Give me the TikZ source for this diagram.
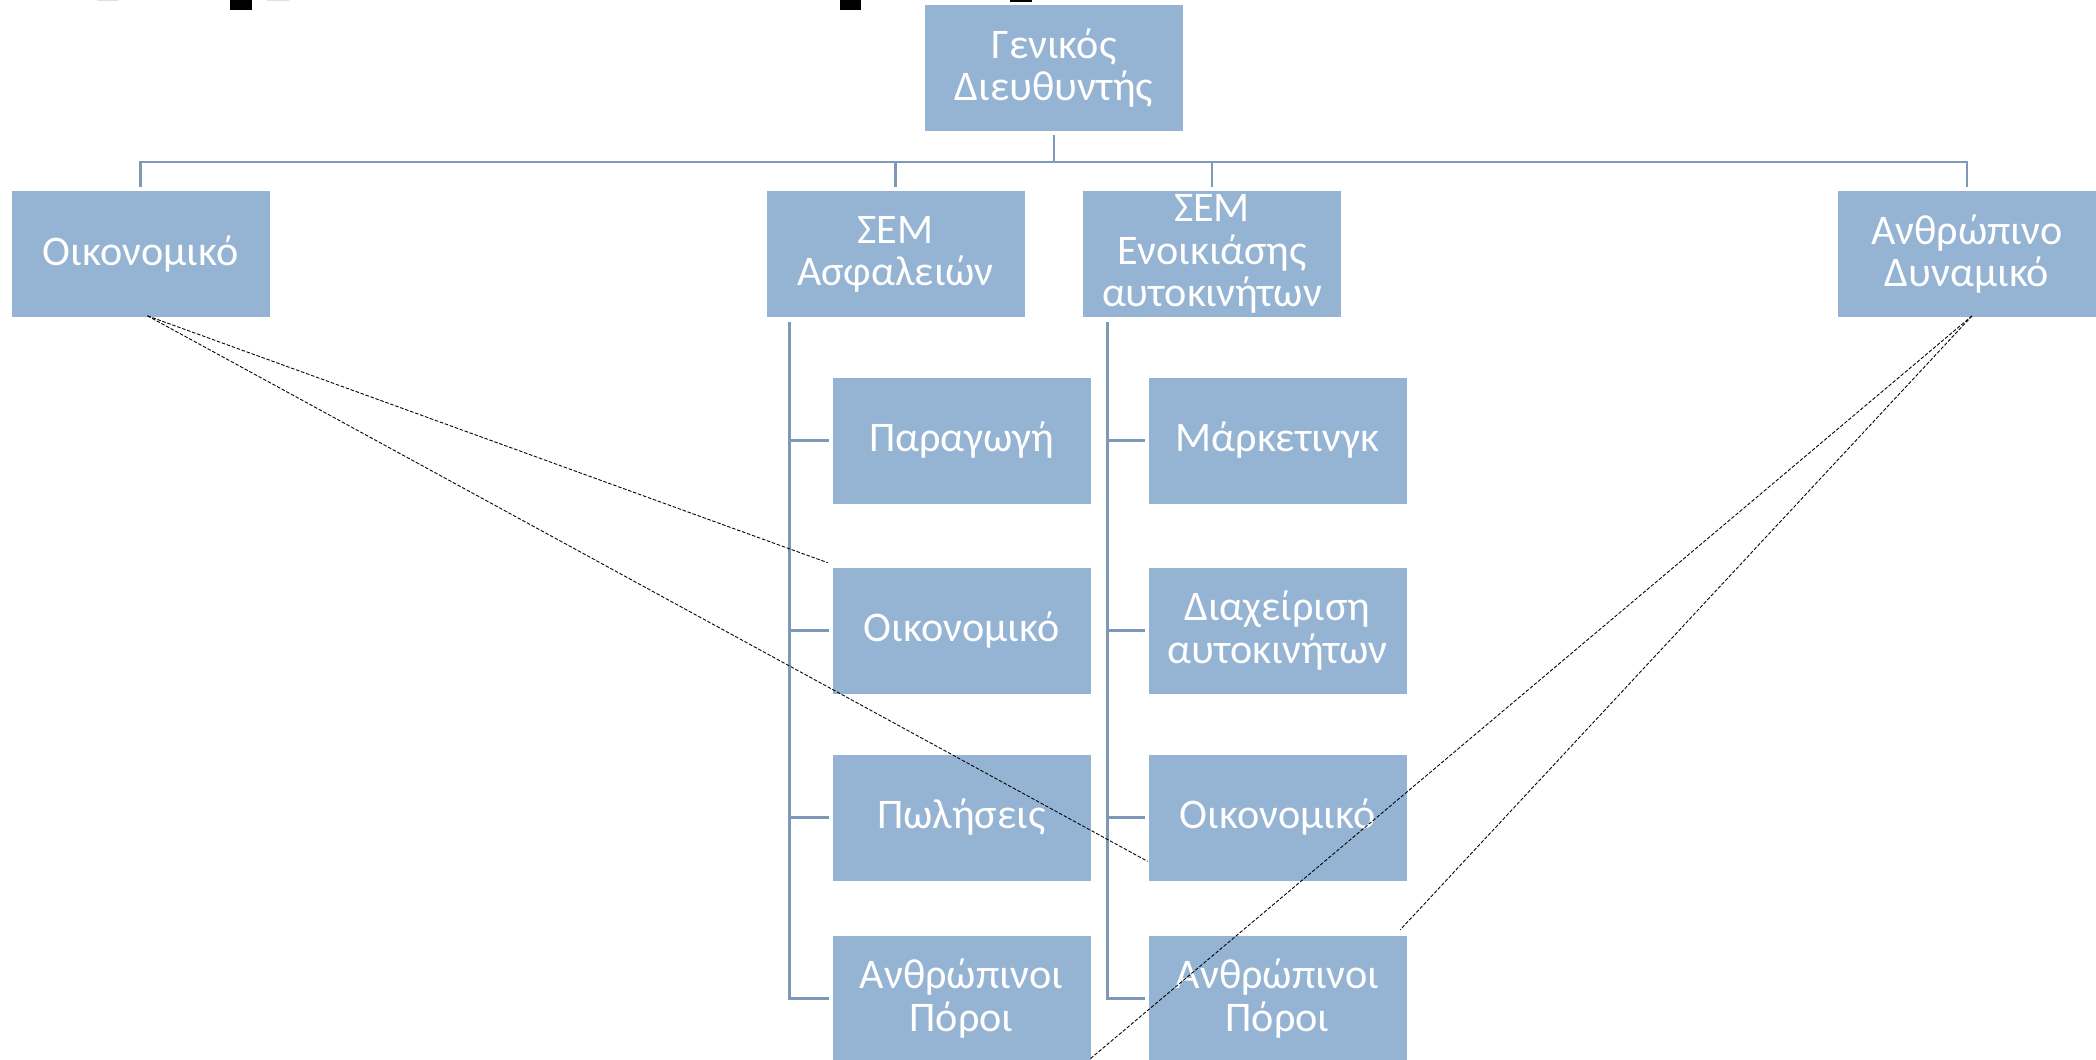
\documentclass[tikz,border=0pt]{standalone}
\usepackage{fontspec}
\setmainfont{Carlito}
\usetikzlibrary{calc}
\definecolor{boxfill}{RGB}{149,179,211}
\definecolor{linecol}{RGB}{126,153,184}
\tikzset{
  box/.style={fill=boxfill, draw=white, line width=0.4pt, text=white, align=center,
    minimum width=5.18cm, minimum height=2.54cm, inner sep=0pt,
    font=\fontsize{24}{24}\selectfont},
  conn/.style={draw=linecol, line width=1.6pt},
  dashline/.style={draw=black, line width=0.5pt, dash pattern=on 2pt off 1pt},
  blob/.style={fill=black}
}
\begin{document}
\begin{tikzpicture}[x=0.02cm,y=-0.02cm]
\path[use as bounding box] (0,0) rectangle (2096,1059);
\clip (0,0) rectangle (2096,1059);
\fill[white] (0,0) rectangle (2096,1059);
% cut-off title fragments
\fill[blob] (97,0) arc[start angle=180, end angle=360, x radius=10.5, y radius=10] -- cycle;
\fill[blob] (230,0) rectangle (252,10);
\fill[blob] (267,0) arc[start angle=180, end angle=360, x radius=11, y radius=10] -- cycle;
\fill[blob] (840,0) rectangle (861,10);
\fill[blob] (1010,0) rectangle (1032,2);
% nodes
\node[box] (top) at (1054,68) {Γενικός\\Διευθυντής};
\node[box] (fin) at (140.5,254) {Οικονομικό};
\node[box] (ins) at (895.5,254) {ΣΕΜ\\Ασφαλειών};
\node[box] (car) at (1212,254) {ΣΕΜ\\Ενοικιάσης\\αυτοκινήτων};
\node[box] (hr)  at (1967,254) {Ανθρώπινο\\Δυναμικό};
\node[box] (a1) at (961.5,440.5) {Παραγωγή};
\node[box] (a2) at (961.5,630.5) {Οικονομικό};
\node[box] (a3) at (961.5,817.5) {Πωλήσεις};
\node[box] (a4) at (961.5,998.5) {Ανθρώπινοι\\Πόροι};
\node[box] (b1) at (1277.5,440.5) {Μάρκετινγκ};
\node[box] (b2) at (1277.5,630.5) {Διαχείριση\\αυτοκινήτων};
\node[box] (b3) at (1277.5,817.5) {Οικονομικό};
\node[box] (b4) at (1277.5,998.5) {Ανθρώπινοι\\Πόροι};
% bus
\coordinate (bus) at (0,162);
\draw[conn] ($(top.south)+(0,3)$) -- (top.south |- bus);
\draw[conn] ($(fin.north)+(0,-3)$) -- (fin.north |- bus) -- (hr.north |- bus) -- ($(hr.north)+(0,-3)$);
\draw[conn] ($(ins.north)+(0,-3)$) -- (ins.north |- bus);
\draw[conn] ($(car.north)+(0,-3)$) -- (car.north |- bus);
% child spines
\coordinate (va) at ($(ins.south west)+(24,4)$);
\coordinate (vb) at ($(car.south west)+(25,4)$);
\draw[conn] (va) |- ($(a4.west)+(-3,0)$);
\draw[conn] (va |- a1.west) -- ($(a1.west)+(-3,0)$);
\draw[conn] (va |- a2.west) -- ($(a2.west)+(-3,0)$);
\draw[conn] (va |- a3.west) -- ($(a3.west)+(-3,0)$);
\draw[conn] (vb) |- ($(b4.west)+(-3,0)$);
\draw[conn] (vb |- b1.west) -- ($(b1.west)+(-3,0)$);
\draw[conn] (vb |- b2.west) -- ($(b2.west)+(-3,0)$);
\draw[conn] (vb |- b3.west) -- ($(b3.west)+(-3,0)$);
% dashed connectors
\coordinate (fs) at ($(fin.south)+(7,-2)$);
\coordinate (hs) at ($(hr.south)+(5,-2)$);
\coordinate (e3) at (1090,1059);
\draw[dashline] (fs) -- ($(a2.north west)+(-4,-4)$);
\draw[dashline] (fs) -- ($(b3.south west)+(0,-20)$);
\draw[dashline] (hs) -- (e3);
\draw[dashline] (hs) -- ($(b4.north east)+(-7,-5)$);
\end{tikzpicture}
\end{document}
